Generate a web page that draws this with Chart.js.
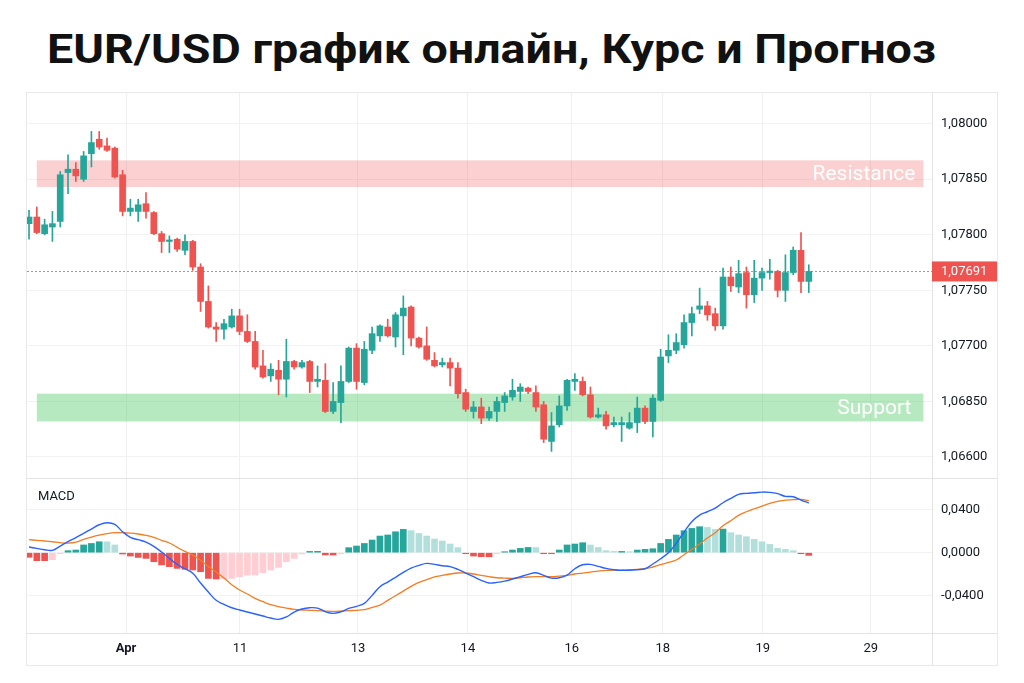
<!DOCTYPE html>
<html lang="ru">
<head>
<meta charset="utf-8">
<title>EUR/USD график онлайн, Курс и Прогноз</title>
<script src="https://cdn.jsdelivr.net/npm/chart.js@4.4.1/dist/chart.umd.min.js"></script>
<style>
  html, body { margin: 0; padding: 0; background: #fff; }
  body { width: 1024px; height: 683px; position: relative; overflow: hidden; font-family: Roboto, 'Noto Sans', sans-serif; }
  h1 { position: absolute; left: 47px; top: 29px; margin: 0; font-size: 41px; line-height: 41px; font-weight: 700; color: #111;
       white-space: nowrap; transform-origin: 0 0; transform: scaleX(1.137); }
  .frame { position: absolute; left: 26px; top: 92px; width: 970px; height: 572px; border: 1px solid #e9e9e9; }
  canvas { display: block; }
</style>
</head>
<body>
<h1 id="title">EUR/USD график онлайн, Курс и Прогноз</h1>
<div class="frame"><canvas id="chart" width="970" height="572"></canvas></div>
<script>
// candles, one per bar (price axis is nominal, labels below are what the chart shows)
var opens = [
  1.06810, 1.06816, 1.06801, 1.06807, 1.06812, 1.06856, 1.06859, 1.06850, 1.06873, 1.06886,
  1.06880, 1.06878, 1.06854, 1.06821, 1.06821, 1.06828, 1.06820, 1.06801, 1.06794, 1.06796,
  1.06786, 1.06794, 1.06771, 1.06740, 1.06717, 1.06715, 1.06717, 1.06727, 1.06713, 1.06704,
  1.06682, 1.06673, 1.06678, 1.06670, 1.06686, 1.06681, 1.06686, 1.06668, 1.06669, 1.06641,
  1.06649, 1.06668, 1.06698, 1.06667, 1.06696, 1.06709, 1.06717, 1.06708, 1.06727, 1.06735,
  1.06707, 1.06700, 1.06687, 1.06683, 1.06685, 1.06680, 1.06658, 1.06641, 1.06645, 1.06635,
  1.06641, 1.06649, 1.06654, 1.06659, 1.06662, 1.06658, 1.06647, 1.06614, 1.06629, 1.06646,
  1.06668, 1.06668, 1.06656, 1.06636, 1.06638, 1.06629, 1.06629, 1.06626, 1.06631, 1.06644,
  1.06632, 1.06651, 1.06691, 1.06696, 1.06701, 1.06721, 1.06733, 1.06736, 1.06729, 1.06718,
  1.06762, 1.06753, 1.06766, 1.06746, 1.06761, 1.06766, 1.06767, 1.06750, 1.06766, 1.06786,
  1.06758
];
var highs = [
  1.06822, 1.06825, 1.06814, 1.06821, 1.06857, 1.06872, 1.06865, 1.06875, 1.06893, 1.06893,
  1.06887, 1.06879, 1.06858, 1.06832, 1.06832, 1.06838, 1.06821, 1.06803, 1.06799, 1.06797,
  1.06800, 1.06795, 1.06774, 1.06754, 1.06721, 1.06724, 1.06733, 1.06733, 1.06728, 1.06713,
  1.06696, 1.06684, 1.06687, 1.06706, 1.06687, 1.06687, 1.06687, 1.06682, 1.06684, 1.06667,
  1.06682, 1.06699, 1.06702, 1.06704, 1.06717, 1.06719, 1.06724, 1.06730, 1.06745, 1.06736,
  1.06708, 1.06717, 1.06694, 1.06689, 1.06689, 1.06685, 1.06661, 1.06650, 1.06653, 1.06645,
  1.06654, 1.06658, 1.06670, 1.06666, 1.06663, 1.06664, 1.06650, 1.06640, 1.06655, 1.06670,
  1.06675, 1.06672, 1.06663, 1.06644, 1.06641, 1.06636, 1.06636, 1.06640, 1.06654, 1.06646,
  1.06656, 1.06697, 1.06710, 1.06711, 1.06728, 1.06735, 1.06752, 1.06740, 1.06734, 1.06770,
  1.06771, 1.06777, 1.06771, 1.06777, 1.06770, 1.06778, 1.06768, 1.06782, 1.06789, 1.06802,
  1.06773
];
var lows = [
  1.06796, 1.06801, 1.06800, 1.06794, 1.06807, 1.06837, 1.06848, 1.06848, 1.06861, 1.06877,
  1.06875, 1.06851, 1.06817, 1.06817, 1.06812, 1.06815, 1.06800, 1.06784, 1.06784, 1.06785,
  1.06782, 1.06768, 1.06731, 1.06716, 1.06704, 1.06706, 1.06716, 1.06710, 1.06703, 1.06679,
  1.06671, 1.06668, 1.06656, 1.06654, 1.06679, 1.06680, 1.06658, 1.06663, 1.06640, 1.06639,
  1.06631, 1.06667, 1.06661, 1.06665, 1.06693, 1.06704, 1.06708, 1.06699, 1.06692, 1.06700,
  1.06698, 1.06687, 1.06681, 1.06681, 1.06664, 1.06653, 1.06641, 1.06635, 1.06630, 1.06633,
  1.06632, 1.06641, 1.06651, 1.06650, 1.06657, 1.06641, 1.06613, 1.06605, 1.06627, 1.06642,
  1.06660, 1.06655, 1.06635, 1.06635, 1.06625, 1.06627, 1.06614, 1.06625, 1.06622, 1.06630,
  1.06618, 1.06650, 1.06685, 1.06693, 1.06698, 1.06709, 1.06729, 1.06723, 1.06714, 1.06715,
  1.06749, 1.06748, 1.06734, 1.06739, 1.06750, 1.06760, 1.06744, 1.06740, 1.06764, 1.06748,
  1.06748
];
var closes = [
  1.06816, 1.06802, 1.06809, 1.06810, 1.06854, 1.06859, 1.06853, 1.06871, 1.06883, 1.06879,
  1.06876, 1.06852, 1.06821, 1.06824, 1.06827, 1.06821, 1.06801, 1.06794, 1.06795, 1.06787,
  1.06794, 1.06771, 1.06740, 1.06717, 1.06715, 1.06720, 1.06727, 1.06713, 1.06704, 1.06681,
  1.06672, 1.06679, 1.06670, 1.06686, 1.06681, 1.06685, 1.06668, 1.06670, 1.06641, 1.06650,
  1.06668, 1.06698, 1.06668, 1.06697, 1.06711, 1.06718, 1.06709, 1.06728, 1.06734, 1.06707,
  1.06699, 1.06688, 1.06682, 1.06685, 1.06680, 1.06657, 1.06643, 1.06645, 1.06635, 1.06641,
  1.06650, 1.06655, 1.06660, 1.06663, 1.06659, 1.06645, 1.06616, 1.06628, 1.06646, 1.06669,
  1.06670, 1.06656, 1.06636, 1.06638, 1.06628, 1.06631, 1.06631, 1.06631, 1.06644, 1.06632,
  1.06653, 1.06690, 1.06696, 1.06703, 1.06721, 1.06729, 1.06736, 1.06728, 1.06718, 1.06762,
  1.06754, 1.06765, 1.06746, 1.06761, 1.06766, 1.06767, 1.06750, 1.06766, 1.06786, 1.06758,
  1.06767
];

// MACD panel
var macdHist = [
  -0.0043, -0.0074, -0.0074, -0.0065, -0.0007, 0.0019, 0.0025, 0.0072, 0.0086, 0.0102,
  0.0101, 0.0072, -0.0012, -0.0031, -0.0044, -0.0053, -0.0084, -0.0114, -0.0130, -0.0146,
  -0.0155, -0.0161, -0.0177, -0.0239, -0.0245, -0.0244, -0.0239, -0.0223, -0.0208, -0.0207,
  -0.0186, -0.0161, -0.0137, -0.0084, -0.0053, -0.0012, 0.0012, 0.0013, -0.0021, -0.0022,
  -0.0003, 0.0047, 0.0062, 0.0086, 0.0118, 0.0155, 0.0165, 0.0195, 0.0217, 0.0205,
  0.0179, 0.0155, 0.0127, 0.0109, 0.0081, 0.0047, -0.0007, -0.0031, -0.0037, -0.0038,
  -0.0003, 0.0003, 0.0025, 0.0040, 0.0049, 0.0048, -0.0007, -0.0008, 0.0025, 0.0072,
  0.0081, 0.0093, 0.0072, 0.0049, 0.0019, 0.0012, 0.0012, 0.0007, 0.0025, 0.0031,
  0.0037, 0.0086, 0.0124, 0.0165, 0.0205, 0.0226, 0.0242, 0.0235, 0.0217, 0.0220,
  0.0186, 0.0165, 0.0149, 0.0124, 0.0102, 0.0077, 0.0040, 0.0031, 0.0019, -0.0007,
  -0.0025
];
var macdLine = [
  0.0053, 0.0040, 0.0028, 0.0022, 0.0062, 0.0102, 0.0140, 0.0180, 0.0220, 0.0260,
  0.0279, 0.0264, 0.0195, 0.0143, 0.0121, 0.0099, 0.0059, 0.0006, -0.0053, -0.0109,
  -0.0149, -0.0192, -0.0282, -0.0366, -0.0443, -0.0481, -0.0512, -0.0533, -0.0552, -0.0570,
  -0.0589, -0.0608, -0.0620, -0.0598, -0.0552, -0.0524, -0.0512, -0.0515, -0.0549, -0.0564,
  -0.0549, -0.0518, -0.0499, -0.0471, -0.0397, -0.0316, -0.0273, -0.0229, -0.0183, -0.0143,
  -0.0118, -0.0099, -0.0109, -0.0121, -0.0130, -0.0155, -0.0189, -0.0223, -0.0257, -0.0282,
  -0.0276, -0.0264, -0.0245, -0.0223, -0.0202, -0.0186, -0.0211, -0.0236, -0.0233, -0.0208,
  -0.0149, -0.0112, -0.0109, -0.0127, -0.0146, -0.0158, -0.0164, -0.0164, -0.0158, -0.0149,
  -0.0105, -0.0056, 0.0000, 0.0087, 0.0192, 0.0288, 0.0350, 0.0381, 0.0415, 0.0465,
  0.0505, 0.0543, 0.0552, 0.0558, 0.0564, 0.0561, 0.0549, 0.0524, 0.0521, 0.0490,
  0.0462
];
var signalLine = [
  0.0121, 0.0115, 0.0109, 0.0102, 0.0093, 0.0090, 0.0099, 0.0124, 0.0146, 0.0164,
  0.0177, 0.0186, 0.0186, 0.0183, 0.0174, 0.0161, 0.0143, 0.0115, 0.0090, 0.0050,
  0.0012, -0.0022, -0.0071, -0.0127, -0.0180, -0.0236, -0.0298, -0.0347, -0.0384, -0.0425,
  -0.0456, -0.0484, -0.0502, -0.0515, -0.0527, -0.0533, -0.0536, -0.0539, -0.0543, -0.0546,
  -0.0543, -0.0539, -0.0536, -0.0530, -0.0508, -0.0487, -0.0443, -0.0400, -0.0357, -0.0313,
  -0.0276, -0.0251, -0.0226, -0.0211, -0.0198, -0.0189, -0.0189, -0.0198, -0.0211, -0.0223,
  -0.0233, -0.0236, -0.0239, -0.0233, -0.0226, -0.0223, -0.0223, -0.0223, -0.0217, -0.0211,
  -0.0198, -0.0189, -0.0180, -0.0171, -0.0164, -0.0161, -0.0161, -0.0158, -0.0155, -0.0149,
  -0.0133, -0.0112, -0.0090, -0.0068, -0.0019, 0.0031, 0.0081, 0.0136, 0.0186, 0.0251,
  0.0298, 0.0347, 0.0381, 0.0409, 0.0434, 0.0459, 0.0477, 0.0490, 0.0493, 0.0496,
  0.0484
];

// axes
var xTickPos = [12.44, 27.05, 42.18, 56.28, 69.6, 81.28, 94.1, 107.95];
var xTickLabels = ['Apr', '11', '13', '14', '16', '18', '19', '29'];
var yTickValues = [1.0660, 1.0665, 1.0670, 1.0675, 1.0680, 1.0685, 1.0690];
var yTickLabels = ['1,06600', '1,06850', '1,07700', '1,07750', '1,07800', '1,07850', '1,08000'];
var macdTickValues = [-0.04, 0, 0.04];
var macdTickLabels = ['-0,0400', '0,0000', '0,0400'];

// zones and last price
var resistanceZone = [1.06843, 1.06867];
var supportZone = [1.06632, 1.06657];
var zoneSpan = [1, 114.7];
var lastPrice = 1.06767;
var lastPriceLabel = '1,07691';

const UP = '#26a69a', DOWN = '#ef5350';
const FONT = 'Roboto, "Noto Sans", sans-serif';

function candleColor(ctx) {
  const i = ctx.dataIndex;
  return closes[i] >= opens[i] ? UP : DOWN;
}

function histColor(ctx) {
  const i = ctx.dataIndex;
  const v = macdHist[i];
  const prev = i > 0 ? macdHist[i - 1] : 0;
  if (v >= 0) return v >= prev ? '#26a69a' : '#b2dfdb';
  return v <= prev ? '#ef5350' : '#ffcdd2';
}

// no extra room for half labels at the panel edges
function noPad(s) {
  s.paddingTop = 0;
  s.paddingBottom = 0;
  s.paddingLeft = 0;
  s.paddingRight = 0;
}

const overlay = {
  id: 'overlay',
  beforeDatasetsDraw(chart) {
    const {ctx, chartArea: a, scales} = chart;
    const x = scales.x, y = scales.y;
    ctx.save();
    const x0 = x.getPixelForValue(zoneSpan[0]);
    const x1 = x.getPixelForValue(zoneSpan[1]);
    [[resistanceZone, 'rgba(240, 80, 80, 0.27)'], [supportZone, 'rgba(76, 200, 100, 0.40)']].forEach(z => {
      const top = y.getPixelForValue(z[0][1]);
      const bot = y.getPixelForValue(z[0][0]);
      ctx.fillStyle = z[1];
      ctx.fillRect(x0, top, x1 - x0, bot - top);
    });
    // last price dotted line
    const py = Math.round(y.getPixelForValue(lastPrice)) + 0.5;
    ctx.strokeStyle = 'rgba(239, 83, 80, 0.8)';
    ctx.lineWidth = 1;
    ctx.setLineDash([2, 2]);
    ctx.beginPath();
    ctx.moveTo(a.left, py);
    ctx.lineTo(a.right, py);
    ctx.stroke();
    ctx.restore();
  },
  afterDraw(chart) {
    const {ctx, chartArea: a, scales, width, height} = chart;
    const x = scales.x, y = scales.y, y2 = scales.y2;
    ctx.save();
    // panel borders
    ctx.strokeStyle = '#e3e3e3';
    ctx.lineWidth = 1;
    ctx.beginPath();
    ctx.moveTo(Math.round(a.right) + 0.5, 0);
    ctx.lineTo(Math.round(a.right) + 0.5, height);
    ctx.moveTo(0, Math.round(y.bottom) + 0.5);
    ctx.lineTo(width, Math.round(y.bottom) + 0.5);
    ctx.moveTo(0, Math.round(a.bottom) + 0.5);
    ctx.lineTo(width, Math.round(a.bottom) + 0.5);
    ctx.stroke();

    // zone labels
    const xr = x.getPixelForValue(zoneSpan[1]) - 8;
    ctx.fillStyle = '#ffffff';
    ctx.font = '400 21px ' + FONT;
    ctx.textAlign = 'right';
    ctx.textBaseline = 'middle';
    ctx.fillText('Resistance', xr, (y.getPixelForValue(resistanceZone[0]) + y.getPixelForValue(resistanceZone[1])) / 2 + 1);
    ctx.fillText('Support', xr - 4, (y.getPixelForValue(supportZone[0]) + y.getPixelForValue(supportZone[1])) / 2 + 1);

    // last price tag on the axis
    const py = y.getPixelForValue(lastPrice);
    ctx.fillStyle = '#ef5350';
    ctx.fillRect(a.right, py - 10, width - a.right, 20);
    ctx.fillStyle = '#ffffff';
    ctx.font = '13px ' + FONT;
    ctx.textAlign = 'left';
    ctx.fillText(lastPriceLabel, a.right + 9, py + 0.5);

    // panel title
    ctx.fillStyle = '#131722';
    ctx.font = '13px ' + FONT;
    ctx.fillText('MACD', a.left + 11, y2.top + 19);
    ctx.restore();
  }
};

function draw() {
  Chart.defaults.font.family = FONT;
  Chart.defaults.color = '#131722';

  const idx = opens.map((_, i) => i);

  new Chart(document.getElementById('chart'), {
    type: 'bar',
    data: {
      datasets: [
        {
          type: 'line',
          label: 'MACD',
          data: idx.map(i => ({x: i, y: macdLine[i]})),
          yAxisID: 'y2',
          borderColor: '#2962ff',
          borderWidth: 1.4,
          pointRadius: 0,
          tension: 0.4
        },
        {
          type: 'line',
          label: 'Signal',
          data: idx.map(i => ({x: i, y: signalLine[i]})),
          yAxisID: 'y2',
          borderColor: '#f57c20',
          borderWidth: 1.3,
          pointRadius: 0,
          tension: 0.4
        },
        {
          label: 'Histogram',
          data: idx.map(i => ({x: i, y: macdHist[i]})),
          yAxisID: 'y2',
          backgroundColor: histColor,
          barThickness: 6,
          minBarLength: 1,
          grouped: false
        },
        {
          label: 'Body',
          data: idx.map(i => ({x: i, y: [opens[i], closes[i]]})),
          yAxisID: 'y',
          backgroundColor: candleColor,
          barThickness: 6,
          minBarLength: 1.5,
          grouped: false
        },
        {
          label: 'Wick',
          data: idx.map(i => ({x: i, y: [lows[i], highs[i]]})),
          yAxisID: 'y',
          backgroundColor: candleColor,
          barThickness: 1,
          minBarLength: 1,
          grouped: false
        }
      ]
    },
    options: {
      responsive: false,
      animation: false,
      devicePixelRatio: 1,
      layout: { padding: 0 },
      plugins: { legend: { display: false }, tooltip: { enabled: false } },
      scales: {
        x: {
          type: 'linear',
          min: -0.26,
          max: 115.8,
          offset: false,
          grid: { color: '#f0f0f0', drawTicks: false, offset: false },
          border: { display: false },
          afterBuildTicks: s => { s.ticks = xTickPos.map(v => ({value: v})); },
          afterFit: s => { s.height = 32; noPad(s); },
          ticks: {
            autoSkip: false,
            maxRotation: 0,
            padding: 8,
            color: '#131722',
            font: ctx => ({ size: 13, weight: xTickLabels[ctx.index] === 'Apr' ? '700' : '400' }),
            callback: (v, i) => xTickLabels[i]
          }
        },
        y: {
          type: 'linear',
          position: 'right',
          stack: 'panes',
          stackWeight: 385,
          min: 1.065811,
          max: 1.069276,
          grid: { color: '#f2f2f2', drawTicks: false },
          border: { display: false },
          afterBuildTicks: s => { s.ticks = yTickValues.map(v => ({value: v})); },
          afterFit: s => { s.width = 65; noPad(s); },
          ticks: {
            autoSkip: false,
            padding: 9,
            font: { size: 13 },
            callback: (v, i) => yTickLabels[i]
          }
        },
        y2: {
          type: 'linear',
          position: 'right',
          stack: 'panes',
          stackWeight: 155,
          min: -0.0747,
          max: 0.0695,
          grid: { color: '#f2f2f2', drawTicks: false },
          border: { display: false },
          afterBuildTicks: s => { s.ticks = macdTickValues.map(v => ({value: v})); },
          afterFit: s => { s.width = 65; noPad(s); },
          ticks: {
            autoSkip: false,
            padding: 9,
            font: { size: 13 },
            callback: (v, i) => macdTickLabels[i]
          }
        }
      }
    },
    plugins: [overlay]
  });
}

Promise.all([
  document.fonts.load('13px Roboto'),
  document.fonts.load('bold 13px Roboto'),
  document.fonts.load('21px Roboto'),
  document.fonts.load('bold 41px Roboto')
]).then(draw, draw);
</script>
</body>
</html>
